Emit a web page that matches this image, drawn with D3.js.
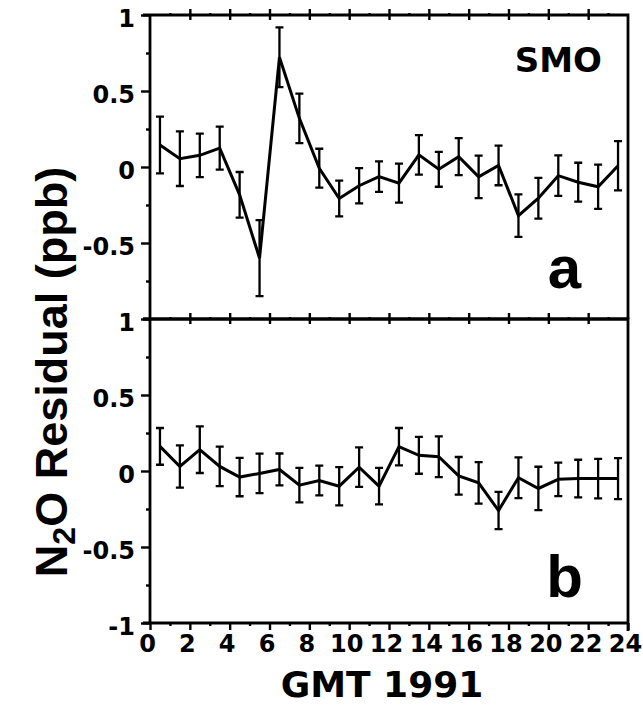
<!DOCTYPE html>
<html>
<head>
<meta charset="utf-8">
<script src="https://cdn.jsdelivr.net/npm/d3@7"></script>
<style>
  body { margin: 0; background: #fff; }
  .tick text { font-family: "DejaVu Sans", sans-serif; font-weight: bold; font-size: 24px; fill: #000; }
  .tick line { stroke: #000; stroke-width: 2.4; }
  .domain { stroke: none; }
</style>
</head>
<body>
<div id="chart"></div>
<script>
// Data: hourly means (GMT, half-hour centres) and error half-widths
const hours = [0.5, 1.5, 2.5, 3.5, 4.5, 5.5, 6.5, 7.5, 8.5, 9.5, 10.5, 11.5,
               12.5, 13.5, 14.5, 15.5, 16.5, 17.5, 18.5, 19.5, 20.5, 21.5, 22.5, 23.5];

// panel a (SMO)
const residA = [0.145, 0.055, 0.077, 0.124, -0.183, -0.6, 0.722, 0.32, -0.008, -0.207, -0.123, -0.063,
                -0.106, 0.08, -0.015, 0.068, -0.065, 0.01, -0.32, -0.205, -0.057, -0.1, -0.13, 0.008];
const errA = [0.187, 0.18, 0.143, 0.141, 0.15, 0.25, 0.196, 0.163, 0.128, 0.118, 0.116, 0.1,
              0.128, 0.13, 0.115, 0.122, 0.14, 0.13, 0.14, 0.134, 0.133, 0.128, 0.146, 0.162];

// panel b
const residB = [0.162, 0.03, 0.14, 0.03, -0.04, -0.016, 0.01, -0.093, -0.063, -0.1, 0.025, -0.1,
                0.16, 0.103, 0.094, -0.032, -0.078, -0.26, -0.044, -0.115, -0.055, -0.05, -0.05, -0.05];
const errB = [0.121, 0.139, 0.153, 0.13, 0.126, 0.13, 0.105, 0.113, 0.098, 0.126, 0.13, 0.12,
              0.123, 0.121, 0.134, 0.124, 0.137, 0.123, 0.134, 0.143, 0.11, 0.124, 0.13, 0.135];

const xTicks = [0, 2, 4, 6, 8, 10, 12, 14, 16, 18, 20, 22, 24];
const xMinor = [1, 3, 5, 7, 9, 11, 13, 15, 17, 19, 21, 23];
const yMinor = [-0.75, -0.25, 0.25, 0.75];

const W = 643, H = 706;
const svg = d3.select("#chart").append("svg")
  .attr("width", W).attr("height", H)
  .style("background", "#fff");

const x = d3.scaleLinear().domain([0, 24]).range([150, 628]);
const yA = d3.scaleLinear().domain([-1, 1]).range([319, 15]);
const yB = d3.scaleLinear().domain([-1, 1]).range([623, 319]);

// Panel helper
function drawPanel(y, means, errs, labelVals, showXLabels) {
  const g = svg.append("g");

  // y axis major ticks + labels
  g.append("g")
    .attr("transform", `translate(${x(0)},0)`)
    .call(d3.axisLeft(y).tickValues(labelVals).tickSize(9).tickPadding(6).tickFormat(d => String(d)))
    .call(a => a.selectAll("text").attr("dy", "0.36em").attr("y", 3));

  g.append("g")
    .attr("transform", `translate(${x(0)},0)`)
    .call(d3.axisLeft(y).tickValues(yMinor).tickSize(4).tickFormat(""));

  // top edge ticks (crossing at even hours)
  const yt = y(1);
  g.append("g").attr("transform", `translate(0,${yt})`)
    .call(d3.axisTop(x).tickValues(xTicks.slice(1, -1)).tickSize(6).tickFormat(""));
  g.append("g").attr("transform", `translate(0,${yt})`)
    .call(d3.axisBottom(x).tickValues(xTicks.slice(1, -1)).tickSize(5).tickFormat(""));
  g.append("g").attr("transform", `translate(0,${yt})`)
    .call(d3.axisTop(x).tickValues(xMinor).tickSize(2).tickFormat(""));

  // bottom edge
  const yb = y(-1);
  if (showXLabels) {
    g.append("g").attr("transform", `translate(0,${yb})`)
      .call(d3.axisBottom(x).tickValues(xTicks).tickSize(7).tickPadding(4).tickFormat(d => String(d)))
      .call(a => a.selectAll("text").attr("dy", "0.73em").attr("x", -3));
    g.append("g").attr("transform", `translate(0,${yb})`)
      .call(d3.axisBottom(x).tickValues(xMinor).tickSize(3).tickFormat(""));
  }

  // frame
  g.append("path")
    .attr("d", `M${x(0) - 7},${yt}H${x(24)}V${yb + (showXLabels ? 8 : 0)}M${x(0)},${yt}V${yb}M${x(0) - 7},${yb}H${x(24)}`)
    .attr("fill", "none").attr("stroke", "#000").attr("stroke-width", 2.8);

  const pts = hours.map((h, i) => ({ h, v: means[i], e: errs[i] }));

  // error bars
  const eb = g.append("g").attr("stroke", "#000").attr("stroke-width", 2.3).attr("fill", "none");
  eb.selectAll("path.bar").data(pts).join("path")
    .attr("class", "bar")
    .attr("d", d => {
      const cx = x(d.h), t = y(d.v + d.e), b = y(d.v - d.e);
      return `M${cx},${t}V${b}M${cx - 4},${t}H${cx + 4}M${cx - 4},${b}H${cx + 4}`;
    });

  // connecting line
  g.append("path")
    .datum(pts)
    .attr("fill", "none")
    .attr("stroke", "#000")
    .attr("stroke-width", 3)
    .attr("stroke-linejoin", "miter")
    .attr("d", d3.line().x(d => x(d.h)).y(d => y(d.v)));

  return g;
}

drawPanel(yA, residA, errA, [-0.5, 0, 0.5, 1], false);
drawPanel(yB, residB, errB, [-1, -0.5, 0, 0.5, 1], true);

// Panel labels
svg.append("text")
  .attr("x", 602).attr("y", 72)
  .attr("text-anchor", "end")
  .attr("font-family", "DejaVu Sans, sans-serif")
  .attr("font-weight", "bold")
  .attr("font-size", 34)
  .text("SMO");

svg.append("text")
  .attr("x", 581).attr("y", 288)
  .attr("text-anchor", "end")
  .attr("font-family", "Liberation Sans, Arial, sans-serif")
  .attr("font-weight", "bold")
  .attr("font-size", 60)
  .text("a");

svg.append("text")
  .attr("x", 583).attr("y", 597)
  .attr("text-anchor", "end")
  .attr("font-family", "Liberation Sans, Arial, sans-serif")
  .attr("font-weight", "bold")
  .attr("font-size", 60)
  .text("b");

// X title
svg.append("text")
  .attr("x", 382).attr("y", 697)
  .attr("text-anchor", "middle")
  .attr("font-family", "DejaVu Sans, sans-serif")
  .attr("font-weight", "bold")
  .attr("font-size", 36)
  .text("GMT 1991");

// Y title with subscript
const yTitle = svg.append("text")
  .attr("transform", "translate(67,372) rotate(-90)")
  .attr("text-anchor", "middle")
  .attr("font-family", "Liberation Sans, Arial, sans-serif")
  .attr("font-weight", "bold")
  .attr("font-size", 45);
yTitle.append("tspan").text("N");
yTitle.append("tspan").attr("font-size", 32).attr("dy", 8).text("2");
yTitle.append("tspan").attr("dy", -8).text("O Residual (ppb)");
</script>
</body>
</html>
